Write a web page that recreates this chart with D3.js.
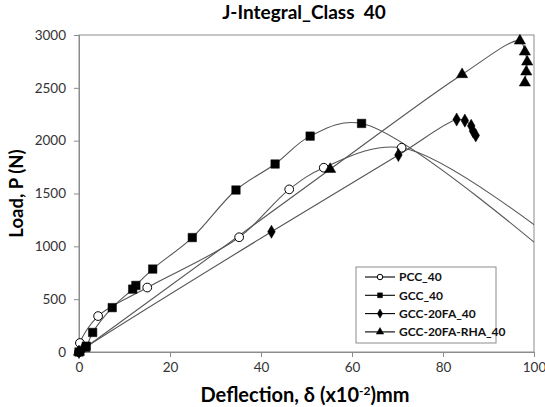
<!DOCTYPE html>
<html>
<head>
<meta charset="utf-8">
<script src="https://cdn.jsdelivr.net/npm/d3@7"></script>
<style>
  body { margin: 0; background: #fff; }
  text { font-family: Lato, "Open Sans", sans-serif; }
</style>
</head>
<body>
<svg id="chart" width="545" height="407"></svg>
<script>
// values: [deflection (x10^-2 mm), load (N)]
const pcc = [[0, 0], [0.2, 85], [4.2, 340], [15, 610], [35.2, 1086], [46.2, 1539],
  [53.8, 1744], [70.9, 1933], [105, 1040]];
const gcc = [[0, 0], [1.6, 55], [3, 185], [7.3, 420], [11.8, 595], [12.5, 630],
  [16.2, 785], [24.9, 1083], [34.5, 1533], [43.1, 1779], [50.8, 2043], [62.1, 2163],
  [106, 820]];
const gcc20fa = [[0, 0], [0.8, 25], [42.3, 1138], [70.2, 1864], [83, 2200],
  [84.8, 2190], [86.2, 2140], [86.6, 2090], [87.2, 2050]];
const gcc20faRha = [[0, 0], [1.2, 35], [55.2, 1730], [84.2, 2627], [96.9, 2945],
  [98, 2841], [98.5, 2746], [98.3, 2652], [98, 2548]];

const seriesNames = ['PCC_40', 'GCC_40', 'GCC-20FA_40', 'GCC-20FA-RHA_40'];
const seriesData = [pcc, gcc, gcc20fa, gcc20faRha];
const markers = ['circle', 'square', 'diamond', 'triangle'];

const xTicks = [0, 20, 40, 60, 80, 100];
const yTicks = [0, 500, 1000, 1500, 2000, 2500, 3000];

const svg = d3.select('#chart');
const plotLeft = 79;
const plotRight = 534;
const plotTop = 35;
const plotBottom = 352;

const x = d3.scaleLinear().domain([0, 100]).range([plotLeft, plotRight]);
const y = d3.scaleLinear().domain([0, 3000]).range([plotBottom, plotTop]);

const axisColor = '#8c8c8c';
const lineColor = '#555';

svg.append('defs').append('clipPath')
  .attr('id', 'plot-cp')
  .append('rect')
  .attr('x', plotLeft)
  .attr('y', plotTop)
  .attr('width', plotRight - plotLeft)
  .attr('height', plotBottom - plotTop);

// plot frame
svg.append('rect')
  .attr('x', plotLeft)
  .attr('y', plotTop)
  .attr('width', plotRight - plotLeft)
  .attr('height', plotBottom - plotTop)
  .attr('fill', 'none')
  .attr('stroke', axisColor);

const xAxis = svg.append('g')
  .attr('transform', `translate(0,${plotBottom})`)
  .call(d3.axisBottom(x).tickValues(xTicks).tickFormat(d3.format('d'))
    .tickSize(5).tickPadding(5));

const yAxis = svg.append('g')
  .attr('transform', `translate(${plotLeft},0)`)
  .call(d3.axisLeft(y).tickValues(yTicks).tickFormat(d3.format('d'))
    .tickSize(5).tickPadding(8));

[xAxis, yAxis].forEach((g) => {
  g.select('.domain').attr('stroke', axisColor);
  g.selectAll('.tick line').attr('stroke', axisColor);
  g.selectAll('.tick text')
    .attr('fill', '#333')
    .style('font-size', '13.5px')
    .style('font-family', 'Lato, sans-serif');
});

const line = d3.line()
  .x((d) => x(d[0]))
  .y((d) => y(d[1]))
  .curve(d3.curveCatmullRom.alpha(0.5));

svg.append('g')
  .attr('clip-path', 'url(#plot-cp)')
  .selectAll('path')
  .data(seriesData)
  .enter()
  .append('path')
  .attr('d', line)
  .attr('fill', 'none')
  .attr('stroke', lineColor)
  .attr('stroke-width', 1.1);

const symbolType = {
  circle: d3.symbolCircle,
  square: d3.symbolSquare,
  diamond: d3.symbolDiamond,
  triangle: d3.symbolTriangle,
};
const symbolSize = {circle: 60, square: 72, diamond: 50, triangle: 55};

/**
 * Draws one marker of the given kind into a selection.
 */
function drawMarker(sel, kind, size) {
  sel.attr('d', d3.symbol().type(symbolType[kind]).size(size || symbolSize[kind]))
    .attr('fill', kind == 'circle' ? '#fff' : '#000')
    .attr('stroke', '#000')
    .attr('stroke-width', kind == 'circle' ? 1 : 0.5);
}

seriesData.forEach((data, i) => {
  svg.append('g')
    .selectAll('path')
    .data(data.filter((d) => d[0] <= 100))
    .enter()
    .append('path')
    .attr('transform', (d) => `translate(${x(d[0])},${y(d[1])})`)
    .call(drawMarker, markers[i]);
});

// legend
const legend = svg.append('g').attr('transform', 'translate(356,267)');
legend.append('rect')
  .attr('width', 140)
  .attr('height', 76)
  .attr('fill', '#fff')
  .attr('stroke', axisColor);

const item = legend.selectAll('.item')
  .data(seriesNames)
  .enter()
  .append('g')
  .attr('class', 'item')
  .attr('transform', (d, i) => `translate(0,${10 + i * 18.3})`);

item.append('line')
  .attr('x1', 9)
  .attr('x2', 39)
  .attr('stroke', '#000')
  .attr('stroke-width', 1.1);

item.append('path')
  .attr('transform', 'translate(24,0)')
  .each(function(d, i) {
    // eslint-disable-next-line no-invalid-this
    d3.select(this).call(drawMarker, markers[i], 24);
  });

item.append('text')
  .attr('x', 43)
  .attr('dy', '0.35em')
  .style('font-size', '12px')
  .style('font-weight', 'bold')
  .attr('fill', '#111')
  .text((d) => d);

// title and axis labels
svg.append('text')
  .attr('x', 304)
  .attr('y', 19)
  .attr('text-anchor', 'middle')
  .style('font-size', '19px')
  .style('font-weight', 'bold')
  .text('J-Integral_Class\u00a0 40');

const xLabel = svg.append('text')
  .attr('x', 305)
  .attr('y', 402)
  .attr('text-anchor', 'middle')
  .style('font-size', '20px')
  .style('font-weight', 'bold');
xLabel.append('tspan').text('Deflection, \u03b4 (x10');
xLabel.append('tspan').attr('dy', -7).style('font-size', '12px').text('-2');
xLabel.append('tspan').attr('dy', 7).text(')mm');

svg.append('text')
  .attr('transform', `translate(23,${(plotTop + plotBottom) / 2}) rotate(-90)`)
  .attr('text-anchor', 'middle')
  .style('font-size', '18.5px')
  .style('font-weight', 'bold')
  .text('Load, P (N)');
</script>
</body>
</html>
